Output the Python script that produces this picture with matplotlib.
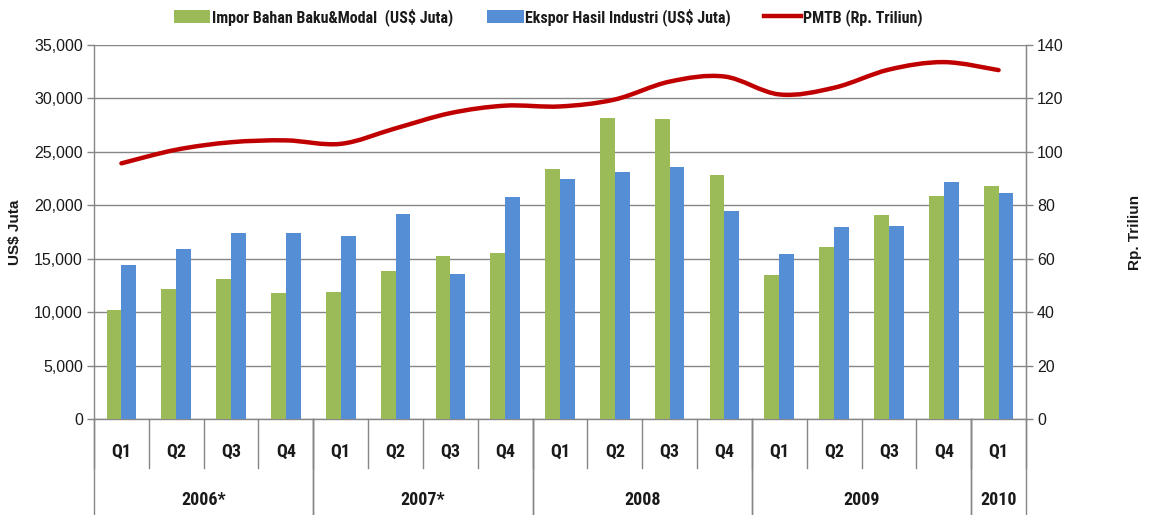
import matplotlib
matplotlib.use("Agg")
import matplotlib.pyplot as plt
import numpy as np
from matplotlib.path import Path
from matplotlib.patches import PathPatch, Patch
from matplotlib.lines import Line2D
from matplotlib import font_manager
from matplotlib.font_manager import FontProperties

quarters = ["Q1", "Q2", "Q3", "Q4", "Q1", "Q2", "Q3", "Q4", "Q1", "Q2", "Q3", "Q4",
            "Q1", "Q2", "Q3", "Q4", "Q1"]
years = ["2006*", "2007*", "2008", "2009", "2010"]
year_counts = [4, 4, 4, 4, 1]
impor = [10200, 12150, 13100, 11750, 11850, 13850, 15250, 15550, 23400, 28200,
         28050, 22850, 13450, 16100, 19050, 20900, 21850]
ekspor = [14400, 15950, 17380, 17380, 17100, 19200, 13580, 20750, 22450, 23150,
          23550, 19450, 15400, 17950, 18050, 22150, 21150]
pmtb = [95.7, 100.8, 103.6, 104.3, 103.0, 108.8, 114.5, 117.3, 117.0, 119.6,
        126.3, 128.2, 121.5, 124.0, 130.8, 133.6, 130.6]

ttf = font_manager.fontManager.ttflist
names = {f.name for f in ttf}
regular = "Liberation Sans" if "Liberation Sans" in names else "DejaVu Sans"
plt.rcParams['font.family'] = [regular, 'DejaVu Sans']


def narrow_font(bold):
    def isbold(f):
        w = f.weight
        if isinstance(w, str):
            return w in ("bold", "heavy", "extra bold", "demibold", "semibold")
        return w >= 600
    prefs = ["Liberation Sans Narrow", "Roboto Condensed", "Open Sans Condensed",
             "DejaVu Sans", "Noto Sans", "Open Sans", "Roboto"]
    for pref in prefs:
        for f in ttf:
            narrowish = ("Narrow" in f.name or "Condensed" in f.name or
                         "Condensed" in f.fname or f.stretch in
                         ("condensed", "semi-condensed", "extra-condensed", 75, 87.5))
            if f.name.startswith(pref.split()[0]) and narrowish and isbold(f) == bold \
                    and f.style == "normal":
                return f.fname
    return None


nb = narrow_font(True)
if nb:
    NB = lambda s: FontProperties(fname=nb, size=s)
else:
    NB = lambda s: FontProperties(family=regular, weight="bold", size=s - 1.5)

GREEN = "#9BBB59"
BLUE = "#558ED5"
RED = "#C00000"
GRID = "#868686"
TEXT = "#1a1a1a"

W, H = 1149, 515
fig = plt.figure(figsize=(W / 100, H / 100), dpi=100)
ax = fig.add_axes([94 / W, 1 - 419 / H, (1026 - 94) / W, (419 - 45) / H])
ax2 = ax.twinx()

n = len(quarters)
x = np.arange(n)
bw = 0.27
ax.bar(x - bw / 2, impor, bw, color=GREEN, zorder=3)
ax.bar(x + bw / 2, ekspor, bw, color=BLUE, zorder=3)

ax.set_xlim(-0.5, n - 0.5)
ax.set_ylim(0, 35000)
ax.set_yticks(np.arange(0, 35001, 5000))
ax.set_yticklabels([f"{v:,}" for v in range(0, 35001, 5000)])
ax.yaxis.grid(True, color=GRID, linewidth=1.0, zorder=0)
ax.set_axisbelow(True)
ax.set_xticks([])
for s in ["left", "bottom", "right"]:
    ax.spines[s].set_color(GRID)
    ax.spines[s].set_linewidth(1.0)
ax.spines["top"].set_visible(False)
ax.tick_params(axis="y", colors=GRID, labelcolor=TEXT, labelsize=11.5, length=5,
               width=1.0, pad=3)

ax2.set_ylim(0, 140)
ax2.set_yticks(np.arange(0, 141, 20))
ax2.tick_params(axis="y", colors=GRID, labelcolor=TEXT, labelsize=11.5, length=5,
                width=1.0, pad=3)
for s in ["left", "bottom", "top"]:
    ax2.spines[s].set_visible(False)
ax2.spines["right"].set_color(GRID)

# smooth line (Excel-style Bezier through the data points)
pts = np.column_stack([x, pmtb]).astype(float)
ext = np.vstack([pts[0], pts, pts[-1]])
verts = [tuple(pts[0])]
codes = [Path.MOVETO]
for i in range(n - 1):
    p0, p1, p2, p3 = ext[i], ext[i + 1], ext[i + 2], ext[i + 3]
    c1 = p1 + (p2 - p0) / 6
    c2 = p2 - (p3 - p1) / 6
    verts += [tuple(c1), tuple(c2), tuple(p2)]
    codes += [Path.CURVE4] * 3
ax2.add_patch(PathPatch(Path(verts, codes), facecolor="none", edgecolor=RED,
                        linewidth=3.2, capstyle="round", zorder=4))

ax.set_ylabel("US$ Juta", fontproperties=FontProperties(family=regular, weight="bold",
              size=11), color=TEXT)
ax2.set_ylabel("Rp. Triliun", fontproperties=FontProperties(family=regular, weight="bold",
               size=11), color=TEXT, rotation=90)
ax.yaxis.set_label_coords(-72 / 932, 0.5)
ax2.yaxis.set_label_coords(1 + 102 / 932, 0.5)

# multi-level category axis
tr = ax.get_xaxis_transform()
q_bottom = -49 / 374
y_bottom = -96 / 374
for b in range(n + 1):
    ax.plot([b - 0.5, b - 0.5], [0, q_bottom], transform=tr, color=GRID,
            linewidth=1.0, clip_on=False)
for i, q in enumerate(quarters):
    ax.text(i, -33 / 374, q, transform=tr, ha="center", va="center",
            fontproperties=NB(13), color=TEXT)
start = 0
for yr, c in zip(years, year_counts):
    for b in (start, start + c):
        ax.plot([b - 0.5, b - 0.5], [0, y_bottom], transform=tr, color=GRID,
                linewidth=1.0, clip_on=False)
    ax.text(start + (c - 1) / 2, -81 / 374, yr, transform=tr, ha="center",
            va="center", fontproperties=NB(13), color=TEXT)
    start += c

handles = [Patch(facecolor=GREEN, edgecolor="none"),
           Patch(facecolor=BLUE, edgecolor="none"),
           Line2D([], [], color=RED, linewidth=3.2)]
labels = ["Impor Bahan Baku&Modal  (US$ Juta)", "Ekspor Hasil Industri (US$ Juta)",
          "PMTB (Rp. Triliun)"]
fig.legend(handles, labels, loc="upper center", bbox_to_anchor=(0.477, 1.012),
           ncol=3, frameon=False, prop=NB(11.5),
           handlelength=2.3, handleheight=0.9, handletextpad=0.1, columnspacing=2.1,
           labelcolor=TEXT)

fig.savefig("out.png", dpi=100)
